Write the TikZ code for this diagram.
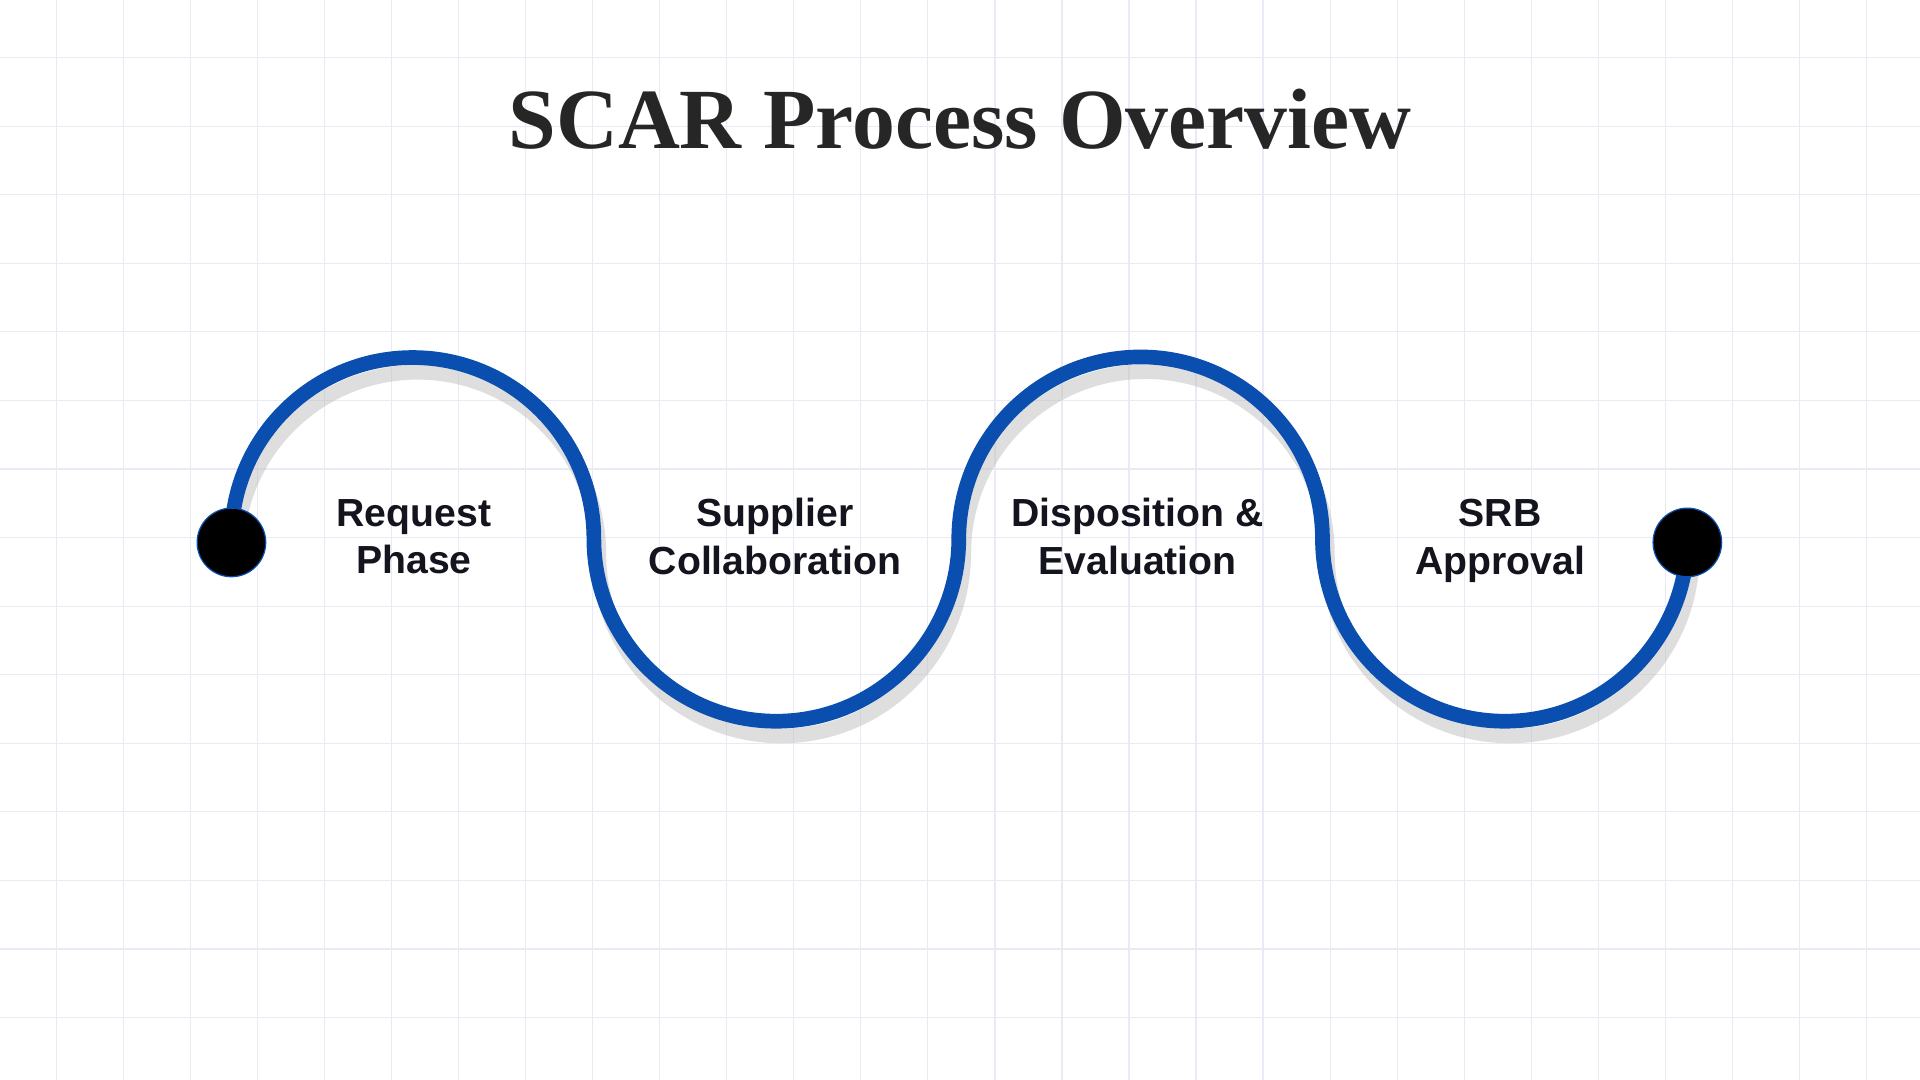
\documentclass[tikz,border=0pt]{standalone}
\usepackage{fontspec}
\setmainfont{Liberation Serif}
\setsansfont{Liberation Sans}
\definecolor{gridc}{RGB}{232,234,246}
\definecolor{waveblue}{RGB}{10,78,175}
\definecolor{labc}{RGB}{20,20,30}
\begin{document}
\begin{tikzpicture}[x=1pt,y=-1pt,
  wave/.style={line width=12pt,draw=waveblue},
  shade/.style={line width=12pt,draw=black!25,opacity=0.5},
  dotn/.style={circle,fill=black,draw=waveblue,line width=1pt,minimum size=56pt,inner sep=0pt},
  lab/.style={font=\sffamily\bfseries\fontsize{32}{39}\selectfont,align=center,text=labc}]
\fill[white] (0,0) rectangle (1568,882);
\useasboundingbox (0,0) rectangle (1568,882);
\foreach \i in {0,...,28} \draw[gridc,line width=1pt] (46+54.75*\i,0) -- (46+54.75*\i,882);
\foreach \j in {0,...,15} \draw[gridc,line width=1pt] (0,47+56*\j) -- (1568,47+56*\j);
\node[text=black!85] (title) at (784,97) {\fontsize{70}{84}\selectfont\bfseries SCAR Process Overview};
\begin{scope}[shift={(4,12)}]
\draw[shade] (189,440) arc[start angle=180,end angle=360,radius=148]
  arc[start angle=180,end angle=0,radius=149]
  arc[start angle=180,end angle=360,radius=148.5]
  arc[start angle=180,end angle=0,radius=149];
\end{scope}
\draw[wave] (189,440) arc[start angle=180,end angle=360,radius=148]
  arc[start angle=180,end angle=0,radius=149]
  arc[start angle=180,end angle=360,radius=148.5]
  arc[start angle=180,end angle=0,radius=149];
\node[dotn] (s) at (189,443) {};
\node[dotn] (e) at (1378,443) {};
\node[lab] (a) at (338,444) {Request\\Phase\strut};
\node[lab] (b) at (633,444) {Supplier\\Collaboration\strut};
\node[lab] (c) at (929,444) {Disposition \&\\Evaluation\strut};
\node[lab] (d) at (1225,444) {SRB\\Approval\strut};
\end{tikzpicture}
\end{document}
